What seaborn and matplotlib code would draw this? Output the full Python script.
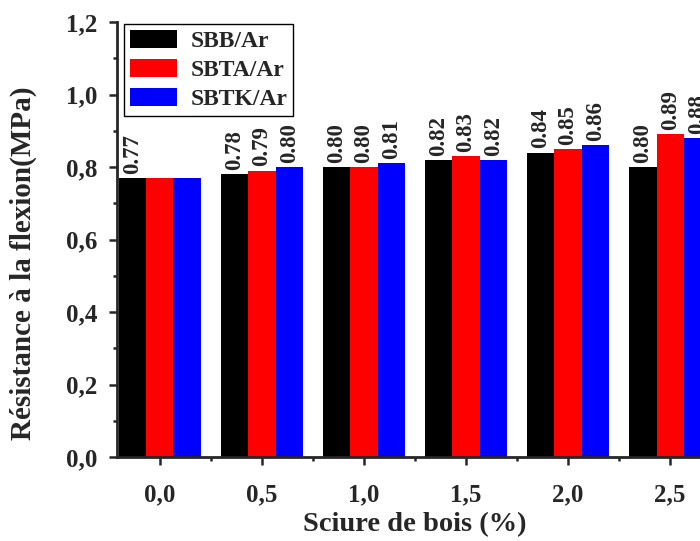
import matplotlib
matplotlib.use("Agg")
import matplotlib.pyplot as plt
from matplotlib.ticker import MultipleLocator, FixedLocator
import seaborn as sns
import pandas as pd

# ---- data ----
categories = ["0,0", "0,5", "1,0", "1,5", "2,0", "2,5"]
series = ["SBB/Ar", "SBTA/Ar", "SBTK/Ar"]
sbb = [0.77, 0.78, 0.80, 0.82, 0.84, 0.80]
sbta = [0.77, 0.79, 0.80, 0.83, 0.85, 0.89]
sbtk = [0.77, 0.80, 0.81, 0.82, 0.86, 0.88]
labels_sbb = ["0.77", "0.78", "0.80", "0.82", "0.84", "0.80"]
labels_sbta = ["", "0.79", "0.80", "0.83", "0.85", "0.89"]
labels_sbtk = ["", "0.80", "0.81", "0.82", "0.86", "0.88"]
colors = ["#000000", "#ff0000", "#0000ff"]
yticks = [0.0, 0.2, 0.4, 0.6, 0.8, 1.0, 1.2]
ytick_labels = ["0,0", "0,2", "0,4", "0,6", "0,8", "1,0", "1,2"]

df = pd.DataFrame({
    "cat": categories * 3,
    "serie": [series[0]] * 6 + [series[1]] * 6 + [series[2]] * 6,
    "val": sbb + sbta + sbtk,
})

sns.set_style("ticks")
plt.rcParams["font.family"] = ["Liberation Serif", "DejaVu Serif"]
plt.rcParams["font.weight"] = "bold"
plt.rcParams["axes.labelweight"] = "bold"

fig = plt.figure(figsize=(7.0, 5.41), dpi=100)
ax_left = 117 / 700
ax_bottom = (541 - 457) / 541
ax_height = (457 - 22) / 541
ax_width = 596 / 700
ax = fig.add_axes([ax_left, ax_bottom, ax_width, ax_height])

sns.barplot(data=df, x="cat", y="val", hue="serie", order=categories,
            hue_order=series, palette=colors, width=0.8, linewidth=0,
            saturation=1, ax=ax, legend=True)

for cont, labs in zip(ax.containers, [labels_sbb, labels_sbta, labels_sbtk]):
    ax.bar_label(cont, labels=labs, rotation=90, padding=3, fontsize=16.5,
                 fontweight="bold")

ax.set_xlim(-0.42, 5.42)
ax.set_ylim(0, 1.2)
ax.set_yticks(yticks)
ax.set_yticklabels(ytick_labels)
ax.yaxis.set_minor_locator(MultipleLocator(0.1))
ax.xaxis.set_minor_locator(FixedLocator([0.5, 1.5, 2.5, 3.5, 4.5]))
ax.tick_params(axis="both", which="major", direction="out", length=5.8,
               width=1.8, labelsize=18)
ax.tick_params(axis="both", which="minor", direction="out", length=3,
               width=1.8)
ax.tick_params(axis="x", which="major", pad=13)
ax.tick_params(axis="y", which="major", pad=8.5)
for lab in ax.get_xticklabels() + ax.get_yticklabels():
    lab.set_fontweight("bold")

for s in ["top", "right"]:
    ax.spines[s].set_visible(False)
for s in ["left", "bottom"]:
    ax.spines[s].set_linewidth(2)

ax.set_xlabel("Sciure de bois (%)", fontsize=20.5, fontweight="bold", labelpad=4)
ax.set_ylabel("Résistance à la flexion(MPa)", fontsize=21, fontweight="bold")
ax.yaxis.set_label_coords(-0.134, 0.446)

leg = ax.legend(loc="upper left", bbox_to_anchor=(0.012, 0.995),
                borderaxespad=0, frameon=True, fancybox=False,
                prop={"family": "Liberation Serif", "weight": "bold", "size": 17},
                handlelength=2.0, handleheight=0.76, handletextpad=0.55,
                labelspacing=0.3, borderpad=0.25, title=None)
leg.get_frame().set_edgecolor("black")
leg.get_frame().set_linewidth(1.0)
leg.get_frame().set_alpha(1)

fig.savefig("out.png", dpi=100)
